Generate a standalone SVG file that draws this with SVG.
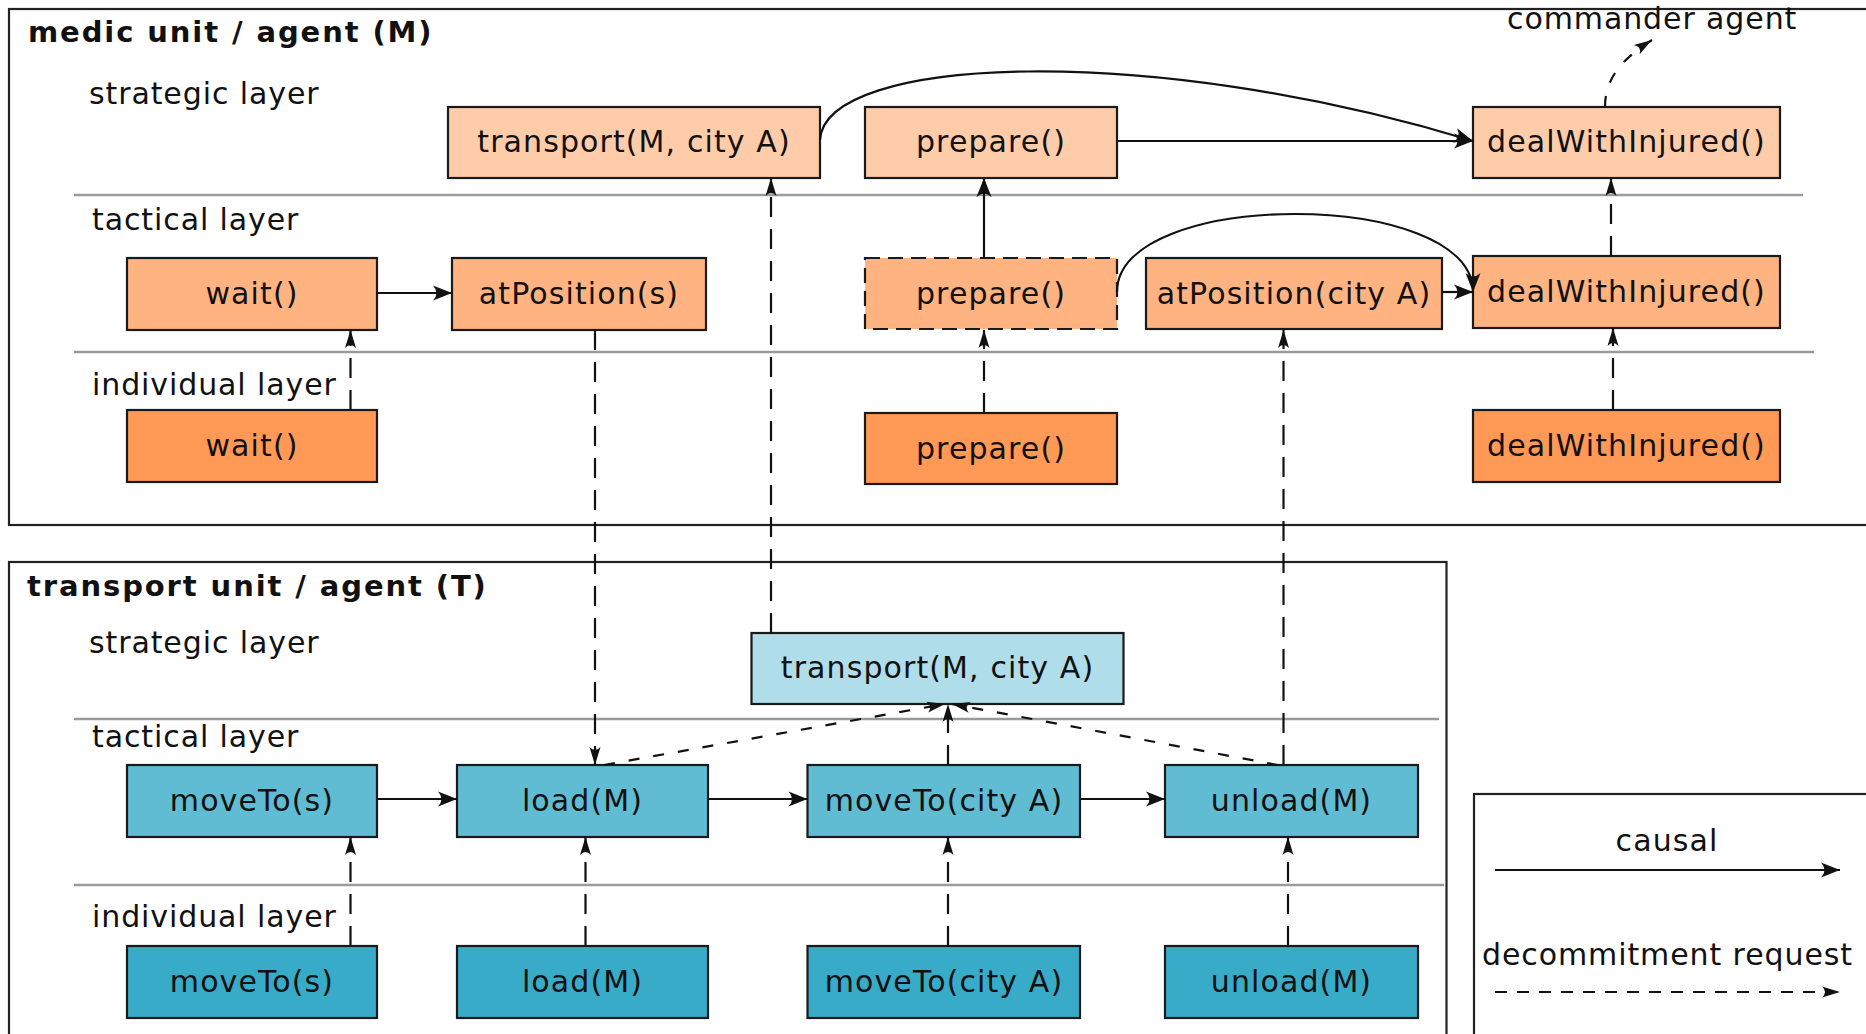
<svg xmlns="http://www.w3.org/2000/svg" width="1866" height="1034" viewBox="0 0 1866 1034">
<defs>
<style>
text{font-family:"DejaVu Sans","Liberation Sans",sans-serif;fill:#111;}
.t{font-size:30px;letter-spacing:0.9px;}
.c{font-size:30px;letter-spacing:1.1px;text-anchor:middle;}
.h{font-size:29px;font-weight:bold;letter-spacing:1.9px;}
.frame{fill:none;stroke:#222;stroke-width:2.2;}
.sep{stroke:#9a9a9a;stroke-width:2.4;fill:none;}
.box{stroke:#1a1a1a;stroke-width:2.2;}
.ms{fill:#ffccaa;}
.mt{fill:#ffb380;}
.mi{fill:#ff9955;}
.ts{fill:#afdde9;}
.tt{fill:#5fbcd3;}
.ti{fill:#37abc8;}
.dash{stroke-dasharray:15,8;}
.causal{fill:none;stroke:#111;stroke-width:2.2;marker-end:url(#ah);}
.dec{fill:none;stroke:#111;stroke-width:2.2;stroke-dasharray:20,12;marker-end:url(#dh);}
.dec2{fill:none;stroke:#111;stroke-width:2.2;stroke-dasharray:11,14;marker-end:url(#dh);}
</style>
<marker id="ah" markerUnits="userSpaceOnUse" viewBox="-20 -8 22 16" refX="0" refY="0" markerWidth="22" markerHeight="16" orient="auto">
<path d="M0,0 L-19,-7.5 Q-12,0 -19,7.5 Z" fill="#111"/>
</marker>
<marker id="dh" markerUnits="userSpaceOnUse" viewBox="-20 -7 22 14" refX="0" refY="0" markerWidth="22" markerHeight="14" orient="auto">
<path d="M0,0 L-18,-5.5 Q-12,0 -18,5.5 Z" fill="#111"/>
</marker>
</defs>
<rect width="1866" height="1034" fill="#fff"/>

<g id="medic-unit">
<rect class="frame" x="9" y="9" width="1880" height="516"/>
<text class="h" x="28" y="42">medic unit / agent (M)</text>
<text class="t" x="89" y="104">strategic layer</text>
<text class="t" x="92" y="230">tactical layer</text>
<text class="t" x="92" y="395">individual layer</text>
<line class="sep" x1="74" y1="195" x2="1803" y2="195"/>
<line class="sep" x1="74" y1="352" x2="1814" y2="352"/>
</g>

<g id="transport-unit">
<rect class="frame" x="9" y="562" width="1437.5" height="500"/>
<text class="h" x="27" y="596">transport unit / agent (T)</text>
<text class="t" x="89" y="653">strategic layer</text>
<text class="t" x="92" y="747">tactical layer</text>
<text class="t" x="92" y="927">individual layer</text>
<line class="sep" x1="74" y1="719" x2="1439" y2="719"/>
<line class="sep" x1="74" y1="885" x2="1444" y2="885"/>
</g>

<g id="commander-agent">
<text class="t" x="1507" y="29">commander agent</text>
</g>

<g id="m-transport"><rect class="box ms" x="448" y="107" width="372" height="71"/><text class="c" x="634" y="152">transport(M, city A)</text></g>
<g id="m-prepare-s"><rect class="box ms" x="865" y="107" width="252" height="71"/><text class="c" x="991" y="152">prepare()</text></g>
<g id="m-deal-s"><rect class="box ms" x="1473" y="107" width="307" height="71"/><text class="c" x="1626.5" y="152">dealWithInjured()</text></g>

<g id="m-wait-t"><rect class="box mt" x="127" y="258" width="250" height="72"/><text class="c" x="252" y="304">wait()</text></g>
<g id="m-atpos-s"><rect class="box mt" x="452" y="258" width="254" height="72"/><text class="c" x="579" y="304">atPosition(s)</text></g>
<g id="m-prepare-t"><rect class="box mt dash" x="865" y="258" width="252" height="71"/><text class="c" x="991" y="304">prepare()</text></g>
<g id="m-atpos-a"><rect class="box mt" x="1146" y="258" width="296" height="71"/><text class="c" x="1294" y="304">atPosition(city A)</text></g>
<g id="m-deal-t"><rect class="box mt" x="1473" y="256" width="307" height="72"/><text class="c" x="1626.5" y="302">dealWithInjured()</text></g>

<g id="m-wait-i"><rect class="box mi" x="127" y="410" width="250" height="72"/><text class="c" x="252" y="456">wait()</text></g>
<g id="m-prepare-i"><rect class="box mi" x="865" y="413" width="252" height="71"/><text class="c" x="991" y="459">prepare()</text></g>
<g id="m-deal-i"><rect class="box mi" x="1473" y="410" width="307" height="72"/><text class="c" x="1626.5" y="456">dealWithInjured()</text></g>

<g id="t-transport"><rect class="box ts" x="751.5" y="633" width="372" height="71"/><text class="c" x="937.5" y="678">transport(M, city A)</text></g>

<g id="t-moveto-s-t"><rect class="box tt" x="127" y="765" width="250" height="72"/><text class="c" x="252" y="811">moveTo(s)</text></g>
<g id="t-load-t"><rect class="box tt" x="457" y="765" width="251" height="72"/><text class="c" x="582.5" y="811">load(M)</text></g>
<g id="t-moveto-a-t"><rect class="box tt" x="807.5" y="765" width="272.5" height="72"/><text class="c" x="944" y="811">moveTo(city A)</text></g>
<g id="t-unload-t"><rect class="box tt" x="1165" y="765" width="253" height="72"/><text class="c" x="1291.5" y="811">unload(M)</text></g>

<g id="t-moveto-s-i"><rect class="box ti" x="127" y="946" width="250" height="72"/><text class="c" x="252" y="992">moveTo(s)</text></g>
<g id="t-load-i"><rect class="box ti" x="457" y="946" width="251" height="72"/><text class="c" x="582.5" y="992">load(M)</text></g>
<g id="t-moveto-a-i"><rect class="box ti" x="807.5" y="946" width="272.5" height="72"/><text class="c" x="944" y="992">moveTo(city A)</text></g>
<g id="t-unload-i"><rect class="box ti" x="1165" y="946" width="253" height="72"/><text class="c" x="1291.5" y="992">unload(M)</text></g>

<g id="legend">
<rect class="frame" x="1474" y="794" width="420" height="300"/>
<text class="c" x="1667" y="851">causal</text>
<line class="causal" x1="1495" y1="870" x2="1840" y2="870"/>
<text class="t" x="1482" y="965">decommitment request</text>
<line class="dec" style="stroke-dasharray:12,10" x1="1495" y1="992" x2="1840" y2="992"/>
</g>

<g id="connectors">
<path class="causal" d="M377,293 L452,293"/>
<path class="causal" d="M1117,141 L1473,141"/>
<path class="causal" d="M820,140 C825,55 1150,42 1473,141"/>
<path class="causal" d="M984,258 L984,178"/>
<path class="causal" d="M1117,292 C1117,188 1473,188 1473,292"/>
<path class="causal" d="M1442,292 L1473,292"/>
<path class="causal" d="M377,799 L457,799"/>
<path class="causal" d="M708,799 L807.5,799"/>
<path class="causal" d="M1080,799 L1165,799"/>

<path class="dec" d="M350.5,410 L350.5,330"/>
<path class="dec" d="M595,330 L595,765"/>
<path class="dec" d="M771,633 L771,178"/>
<path class="dec" d="M984,413 L984,330"/>
<path class="dec" d="M1283.5,765 L1283.5,330"/>
<path class="dec" d="M1613,410 L1613,328"/>
<path class="dec" d="M1611,256 L1611,178"/>
<path class="dec2" d="M1605,107 C1605,80 1620,60 1652,40"/>
<path class="dec" d="M350.5,946 L350.5,837"/>
<path class="dec" d="M585.5,946 L585.5,837"/>
<path class="dec" d="M948,946 L948,837"/>
<path class="dec" d="M1288,946 L1288,837"/>
<path class="dec" d="M948,765 L948,704"/>
<path class="dec2" d="M604,765 L945,704"/>
<path class="dec2" d="M1278,765 L952,704"/>
</g>
</svg>
